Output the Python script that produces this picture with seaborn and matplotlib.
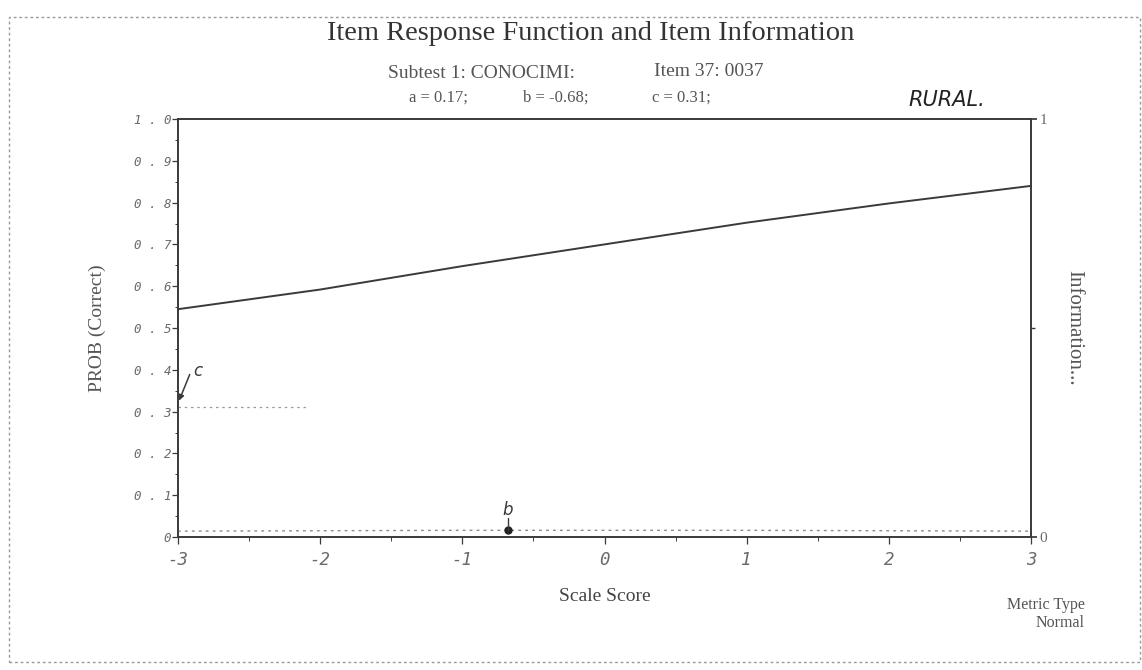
import numpy as np
import pandas as pd
import matplotlib
matplotlib.use("Agg")
import matplotlib.pyplot as plt
import seaborn as sns
from matplotlib.patches import Rectangle
from matplotlib.ticker import MultipleLocator

# ---- data ----
theta = [-3, -2, -1, 0, 1, 2, 3]
prob_correct = [0.545, 0.592, 0.648, 0.700, 0.752, 0.798, 0.840]
information = [0.014, 0.015, 0.016, 0.016, 0.016, 0.015, 0.014]
param_a = 0.17
param_b = -0.68
param_c = 0.31
y_ticks = [0, 0.1, 0.2, 0.3, 0.4, 0.5, 0.6, 0.7, 0.8, 0.9, 1.0]
y_tick_labels = ["0", "0 . 1", "0 . 2", "0 . 3", "0 . 4", "0 . 5", "0 . 6", "0 . 7", "0 . 8", "0 . 9", "1 . 0"]
x_ticks = [-3, -2, -1, 0, 1, 2, 3]
x_tick_labels = ["-3", "-2", "-1", "0", "1", "2", "3"]

sns.set_theme(style="white")
plt.rcParams['font.family'] = ['Liberation Serif', 'DejaVu Serif']

ink = "#3a3a3a"
gray = "#6a6a6a"

fig = plt.figure(figsize=(11.42, 6.70), dpi=100)
ax = fig.add_axes([178/1142, 1-537/670, (1031-178)/1142, (537-119)/670])

df = pd.DataFrame({"theta": theta, "prob": prob_correct, "info": information})
sns.lineplot(data=df, x="theta", y="prob", ax=ax, color=ink, linewidth=1.4)

ax.set_xlim(-3, 3)
ax.set_ylim(0, 1)
ax.set_yticks(y_ticks)
ax.set_yticklabels(y_tick_labels, family="DejaVu Sans Mono", style="italic", fontsize=9, color=gray)
ax.yaxis.set_minor_locator(MultipleLocator(0.05))
ax.set_xticks(x_ticks)
ax.set_xticklabels(x_tick_labels, family="DejaVu Sans Mono", style="italic", fontsize=12.5, color=gray)
ax.xaxis.set_minor_locator(MultipleLocator(0.5))
ax.tick_params(axis="y", which="major", direction="out", length=4, width=0.9, color=ink, left=True, pad=1)
ax.tick_params(axis="y", which="minor", direction="out", length=2, width=0.7, color=ink, left=True)
ax.tick_params(axis="x", which="major", direction="out", length=5, width=0.9, color=ink, bottom=True, pad=5)
ax.tick_params(axis="x", which="minor", direction="out", length=3, width=0.7, color=ink, bottom=True)
for s in ax.spines.values():
    s.set_color(ink)
    s.set_linewidth(1.2)
ax.set_xlabel("Scale Score", fontsize=14, color="#444444", labelpad=14)
ax.set_ylabel("PROB (Correct)", fontsize=14, color="#555555", labelpad=20)

# c asymptote marker
ax.plot([-3, -2.1], [param_c, param_c], linestyle=(0, (2, 3)), color="#9a9a9a", linewidth=0.9)
ax.annotate("", xy=(-3, 0.32), xytext=(-2.91, 0.395),
            arrowprops=dict(arrowstyle="-|>", color=ink, lw=1.1, mutation_scale=8))
ax.text(-2.89, 0.385, "c", family="DejaVu Sans", style="italic", fontsize=12, color=ink)

# information axis
ax2 = ax.twinx()
sns.lineplot(data=df, x="theta", y="info", ax=ax2, color="#8a8a8a", linewidth=1.0,
             linestyle=(0, (2, 3)))
ax2.set_ylim(0, 1)
ax2.set_yticks([0, 1])
ax2.set_yticklabels(["0", "1"], fontsize=11, color=gray)
ax2.yaxis.set_minor_locator(MultipleLocator(0.5))
ax2.tick_params(axis="y", which="major", direction="out", length=4, color=ink, right=True, pad=2)
ax2.tick_params(axis="y", which="minor", direction="out", length=3, color=ink, right=True)
ax2.set_ylabel("Information...", rotation=-90, fontsize=15, color="#555555", labelpad=26)
for s in ax2.spines.values():
    s.set_color(ink)
    s.set_linewidth(1.2)

# b marker
b_info = 0.016
ax2.plot([param_b], [b_info], marker="o", markersize=5, color="#222222")
ax2.plot([param_b, param_b], [b_info, 0.045], color=ink, linewidth=1.0)
ax2.text(param_b, 0.042, "b", family="DejaVu Sans", style="italic", fontsize=12,
         color=ink, ha="center", va="bottom")

# titles
fig.text(591/1142, 1-33/670, "Item Response Function and Item Information", fontsize=20.5,
         color="#333333", ha="center", va="center")
fig.text(481/1142, 1-73/670, "Subtest 1: CONOCIMI:", fontsize=14, color="#555555", ha="center", va="center")
fig.text(709/1142, 1-72/670, "Item 37: 0037", fontsize=14, color="#555555", ha="center", va="center")
fig.text(438/1142, 1-98/670, f"a = {param_a:.2f};", fontsize=12, color="#555555", ha="center", va="center")
fig.text(556/1142, 1-98/670, f"b = {param_b:.2f};", fontsize=12, color="#555555", ha="center", va="center")
fig.text(681/1142, 1-98/670, f"c = {param_c:.2f};", fontsize=12, color="#555555", ha="center", va="center")
fig.text(947/1142, 1-100/670, "RURAL.", family="DejaVu Sans", style="italic", fontsize=15,
         color="#222222", ha="center", va="center")

fig.text(1085/1142, 1-605/670, "Metric Type", fontsize=11.5, color="#555555", ha="right", va="center")
fig.text(1085/1142, 1-623/670, "Normal", fontsize=11.5, color="#555555", ha="right", va="center")

# dotted page border
fig.add_artist(Rectangle((9/1142, 1-662/670), (1140-9)/1142, (662-17)/670,
                         transform=fig.transFigure, fill=False, edgecolor="#9a9a9a",
                         linestyle=(0, (2, 2)), linewidth=1.0))

fig.savefig("out.png", dpi=100, facecolor="white")
